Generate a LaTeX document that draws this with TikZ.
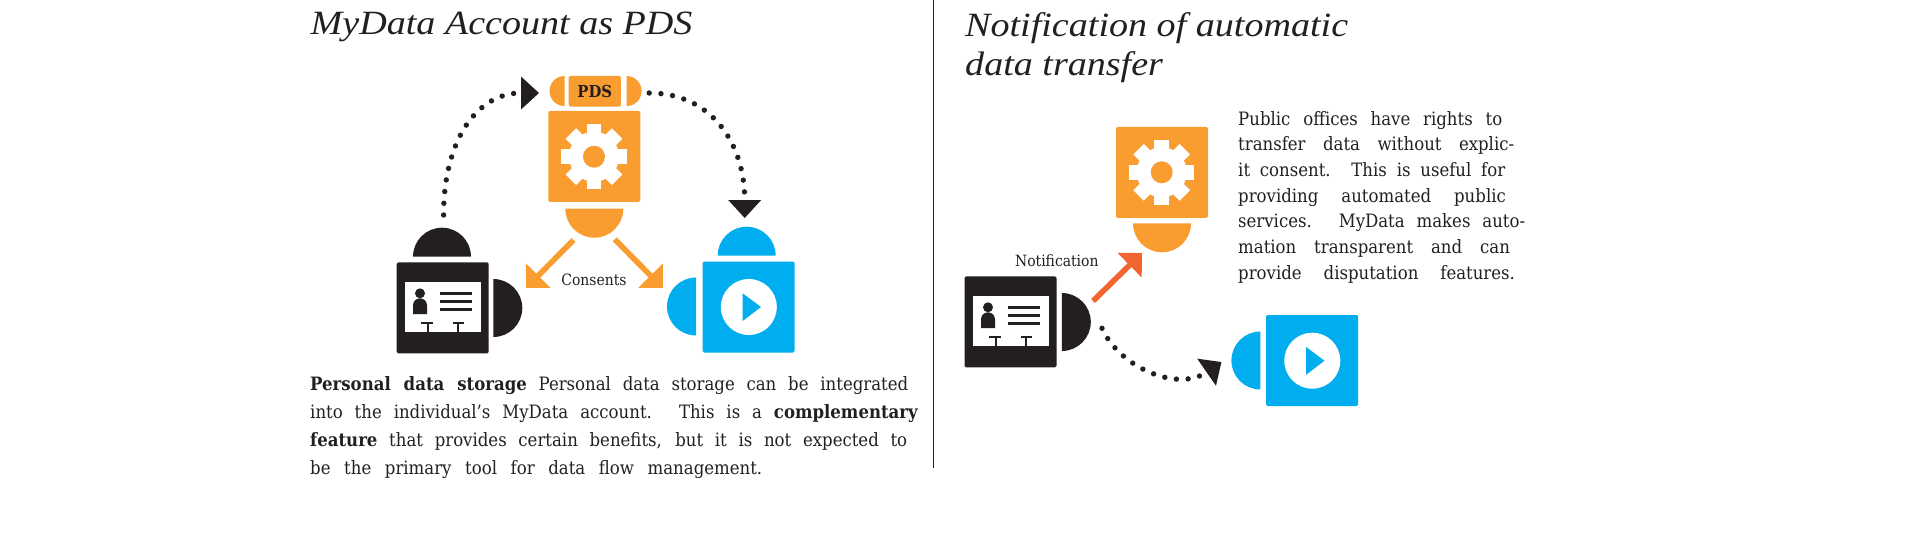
\documentclass[tikz,border=0pt]{standalone}
\usepackage{fontspec}
\usetikzlibrary{arrows.meta}
\setmainfont{DejaVu Serif Condensed}
\newfontfamily\ttlfont[FakeStretch=1.12]{Liberation Serif}
\definecolor{mdorange}{HTML}{F99D31}
\definecolor{mdred}{HTML}{F26531}
\definecolor{mdblue}{HTML}{00AEEF}
\definecolor{mdblack}{HTML}{231F20}
\newcommand{\fitl}[2]{\makebox[#1pt][s]{#2}}
\newcommand{\gearat}[2]{%
  \begin{scope}[shift={(#1)}]
    \fill[white] (0,0) circle[radius=25pt];
    \foreach \a in {0,45,...,315}{\fill[white,rotate=\a] (-7.4pt,0pt) rectangle (7.4pt,32.7pt);}
    \fill[#2] (0,0) circle[radius=11pt];
  \end{scope}}
\newcommand{\halfdisc}[4]{% x,y of flat side centre, start angle, radius
  \fill[#4] ($(#1)$) ++(#2:#3pt) arc[start angle=#2,delta angle=180,radius=#3pt] -- cycle;}
\usetikzlibrary{calc}
\tikzset{
  card/.style={rectangle,rounded corners=1.5pt,minimum width=92pt,minimum height=91pt,inner sep=0pt,draw=none},
  dotted arc/.style={mdblack,line width=5.4pt,line cap=round,dash pattern=on 0pt off #1pt},
  blacktip/.style={-{Triangle[length=18pt,width=33pt,fill=mdblack,line width=0pt,round=false]}},
  flowarrow/.style={line width=5.6pt,-{Triangle[length=17.4pt,width=33.5pt]}},
  titletext/.style={font=\ttlfont\itshape\fontsize{34}{39.5}\selectfont,text=mdblack,anchor=north west,align=left,inner sep=0pt},
  bodytext/.style={text=mdblack,anchor=north west,align=left,inner sep=0pt},
  labeltext/.style={font=\fontsize{15.5}{18}\selectfont,text=mdblack,inner sep=0pt},
}
\newcommand{\idscreen}[1]{%
  \begin{scope}[shift={(#1)}]
    \fill[white] (8.6,19.7) rectangle (83.9,69.7);
    \fill[mdblack] (23.3,31) circle[radius=5pt];
    \fill[mdblack] (16.3,51.7) -- (16.3,43) arc[start angle=180,end angle=0,radius=7pt] -- (30.3,51.7) -- cycle;
    \foreach \yy in {31.4,39.4,47.4}{\fill[mdblack] (43.6,\yy-1.3) rectangle (75.7,\yy+1.3);}
    \fill[mdblack] (24.6,59.4) rectangle (35.8,61.7);
    \fill[mdblack] (30.6,61) rectangle (32.6,69.7);
    \fill[mdblack] (56.3,59.4) rectangle (67,61.7);
    \fill[mdblack] (60.3,61) rectangle (62.3,69.7);
  \end{scope}}
\newcommand{\playmark}[1]{%
  \fill[white] (#1) circle[radius=28pt];
  \fill[mdblue] ($(#1)+(-6.2,-13.7)$) -- ($(#1)+(12.2,0)$) -- ($(#1)+(-6.2,14)$) -- cycle;}
\begin{document}
\begin{tikzpicture}[x=1pt,y=-1pt]
\useasboundingbox (0,0) rectangle (1920,550);
% divider
\coordinate (divtop) at (933.5,0);
\coordinate (divbot) at (933.5,468);
\draw[mdblack,line width=1.1pt] (divtop) -- (divbot);
% --- left panel
\node[titletext] (ltitle) at (310.5,12) {MyData Account as PDS};
% PDS unit
\node[card,fill=mdorange] (pdsbox) at (594.3,156.3) {};
\gearat{594,156.7}{mdorange}
\halfdisc{594.3,208.7}{180}{29}{mdorange}
\node[rectangle,rounded corners=1.5pt,fill=mdorange,minimum width=52.3pt,minimum height=30.7pt,inner sep=0pt,font=\fontsize{16.5}{18}\selectfont\bfseries,text=mdblack] (pdstag) at (594.8,91.3) {PDS};
\fill[mdorange] (564.5,76) arc[start angle=90,end angle=270,radius=15pt] -- cycle;
\fill[mdorange] (626.6,76) arc[start angle=90,end angle=-90,radius=15pt] -- cycle;
% user unit
\node[card,fill=mdblack] (usrbox) at (442.7,307.8) {};
\idscreen{396.7,262.3}
\halfdisc{442,256.7}{0}{29}{mdblack}
\halfdisc{493.3,308}{90}{-29}{mdblack}
% service unit
\node[card,fill=mdblue] (svcbox) at (748.6,307) {};
\playmark{748.8,307}
\halfdisc{696,306.5}{90}{29}{mdblue}
\halfdisc{746.7,255.7}{0}{29}{mdblue}
% connectors
\coordinate (a1) at (443.6,215);
\coordinate (a2) at (539,93);
\coordinate (b1) at (649.2,93);
\coordinate (b2) at (744.7,218);
\draw[dotted arc=11.75,blacktip] (a1) .. controls (443.6,140) and (477,93) .. (a2);
\draw[dotted arc=11.75,blacktip] (b1) .. controls (711,93) and (744.7,143) .. (b2);
\coordinate (c1) at (573.5,240);
\coordinate (c2) at (526,288);
\coordinate (d1) at (614.7,239.3);
\coordinate (d2) at (662.8,288);
\draw[flowarrow,mdorange] (c1) -- (c2);
\draw[flowarrow,mdorange] (d1) -- (d2);
\node[labeltext] (consents) at (594,280) {Consents};
\node[bodytext,font=\fontsize{18.4}{28}\selectfont] (lpara) at (310,376) {%
\fitl{598}{\textbf{Personal data storage} Personal data storage can be integrated}\\
\fitl{608}{into the individual’s MyData account. This is a \textbf{complementary}}\\
\fitl{597}{\textbf{feature} that provides certain benefits, but it is not expected to}\\
\fitl{452}{be the primary tool for data flow management.}};
% --- right panel
\node[titletext] (rtitle) at (965,12) {Notification of automatic\\data transfer};
\node[card,fill=mdorange] (autobox) at (1162,172.3) {};
\gearat{1161.7,172.3}{mdorange}
\halfdisc{1162,223.3}{180}{29}{mdorange}
\node[card,fill=mdblack] (ubox) at (1010.5,321.8) {};
\idscreen{964.7,276.3}
\halfdisc{1061.8,322}{90}{-29}{mdblack}
\node[card,fill=mdblue] (vbox) at (1312.1,360.5) {};
\playmark{1312.3,360.7}
\halfdisc{1260.4,360.5}{90}{29}{mdblue}
\coordinate (e1) at (1093,301);
\coordinate (e2) at (1142,253);
\draw[flowarrow,mdred] (e1) -- (e2);
\node[labeltext] (notif) at (1056.8,261) {Notification};
\coordinate (f1) at (1102,328.3);
\coordinate (f2) at (1221.4,362);
\draw[dotted arc=11.75,blacktip] (f1) .. controls (1120,368) and (1178,392) .. (f2);
\node[bodytext,font=\fontsize{18.4}{25.65}\selectfont] (rpara) at (1238,111) {%
\fitl{264}{Public offices have rights to}\\
\fitl{276}{transfer data without explic-}\\
\fitl{267}{it consent. This is useful for}\\
\fitl{267.6}{providing automated public}\\
\fitl{287}{services. MyData makes auto-}\\
\fitl{271.7}{mation transparent and can}\\
\fitl{276.7}{provide disputation features.}};
\end{tikzpicture}
\end{document}
